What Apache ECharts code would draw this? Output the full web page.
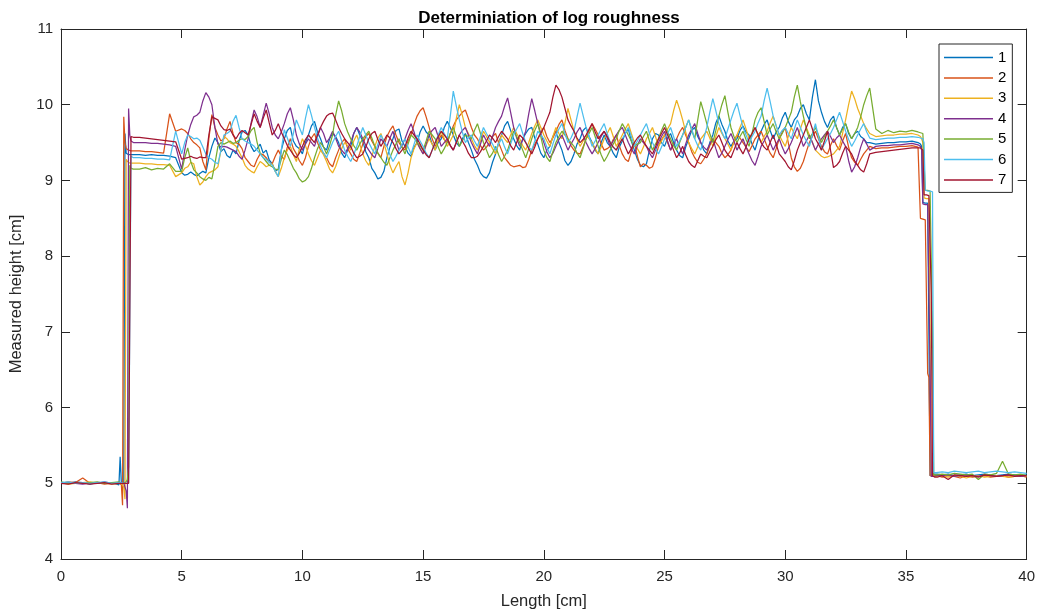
<!DOCTYPE html>
<html>
<head>
<meta charset="utf-8">
<script src="https://cdn.jsdelivr.net/npm/echarts@6/dist/echarts.min.js"></script>
<style>
html,body{margin:0;padding:0;background:#fff;}
#chart{width:1038px;height:615px;}
</style>
</head>
<body>
<div id="chart"></div>
<script>
// ---- data ----
const titleText = 'Determiniation of log roughness';
const xName = 'Length [cm]';
const yName = 'Measured height [cm]';
const seriesNames = ['1','2','3','4','5','6','7'];
const seriesColors = ['#0072BD','#D95319','#EDB120','#7E2F8E','#77AC30','#4DBEEE','#A2142F'];
const xTicks = [0,5,10,15,20,25,30,35,40];
const yTicks = [4,5,6,7,8,9,10,11];

// sample positions along the log [cm]
const lengthCm = [
  0,0.3,0.6,0.9,1.2,1.5,1.8,2.1,2.4,
  2.45,2.5,2.55,2.6,2.65,2.7,2.75,2.8,2.85,2.9,2.95,3,
  3.25,3.5,3.75,4,4.25,4.5,4.75,
  5,5.125,5.25,5.375,5.5,5.625,5.75,5.875,
  6,6.125,6.25,6.375,6.5,6.625,6.75,6.875,
  7,7.125,7.25,7.375,7.5,7.625,7.75,7.875,
  8,8.125,8.25,8.375,8.5,8.625,8.75,8.875,
  9,9.125,9.25,9.375,9.5,9.625,9.75,9.875,
  10,10.125,10.25,10.375,10.5,10.625,10.75,10.875,
  11,11.125,11.25,11.375,11.5,11.625,11.75,11.875,
  12,12.125,12.25,12.375,12.5,12.625,12.75,12.875,
  13,13.125,13.25,13.375,13.5,13.625,13.75,13.875,
  14,14.125,14.25,14.375,14.5,14.625,14.75,14.875,
  15,15.125,15.25,15.375,15.5,15.625,15.75,15.875,
  16,16.125,16.25,16.375,16.5,16.625,16.75,16.875,
  17,17.125,17.25,17.375,17.5,17.625,17.75,17.875,
  18,18.125,18.25,18.375,18.5,18.625,18.75,18.875,
  19,19.125,19.25,19.375,19.5,19.625,19.75,19.875,
  20,20.125,20.25,20.375,20.5,20.625,20.75,20.875,
  21,21.125,21.25,21.375,21.5,21.625,21.75,21.875,
  22,22.125,22.25,22.375,22.5,22.625,22.75,22.875,
  23,23.125,23.25,23.375,23.5,23.625,23.75,23.875,
  24,24.125,24.25,24.375,24.5,24.625,24.75,24.875,
  25,25.125,25.25,25.375,25.5,25.625,25.75,25.875,
  26,26.125,26.25,26.375,26.5,26.625,26.75,26.875,
  27,27.125,27.25,27.375,27.5,27.625,27.75,27.875,
  28,28.125,28.25,28.375,28.5,28.625,28.75,28.875,
  29,29.125,29.25,29.375,29.5,29.625,29.75,29.875,
  30,30.125,30.25,30.375,30.5,30.625,30.75,30.875,
  31,31.125,31.25,31.375,31.5,31.625,31.75,31.875,
  32,32.125,32.25,32.375,32.5,32.625,32.75,32.875,
  33,33.125,33.25,33.375,33.5,
  33.75,34,34.25,34.5,34.75,35,35.25,35.5,
  35.55,35.6,35.65,35.7,35.75,35.8,35.85,35.9,35.95,36,36.05,36.1,36.15,36.2,36.25,36.3,
  36.5,36.75,37,37.25,37.5,37.75,38,38.25,38.5,38.75,39,39.25,39.5,39.75,40
];

const h1 = [
  5.01,5.00,5.02,5.01,4.99,5.01,5.00,5.01,4.98,
  5.35,5.00,5.02,5.00,9.62,9.36,9.35,9.34,9.34,9.34,9.34,9.34,
  9.34,9.33,9.34,9.33,9.33,9.32,9.30,
  9.10,9.07,9.08,9.11,9.08,9.06,9.09,9.12,
  9.10,9.30,9.45,9.56,9.50,9.38,9.42,9.33,
  9.30,9.40,9.35,9.52,9.64,9.66,9.60,9.45,
  9.38,9.42,9.48,9.36,9.40,9.27,9.22,9.12,
  9.15,9.40,9.55,9.66,9.70,9.52,9.45,9.42,
  9.35,9.50,9.60,9.72,9.78,9.64,9.55,9.44,
  9.40,9.55,9.62,9.58,9.50,9.36,9.30,9.40,
  9.45,9.62,9.70,9.60,9.52,9.38,9.30,9.16,
  9.10,9.02,9.04,9.12,9.30,9.44,9.55,9.66,
  9.68,9.52,9.45,9.36,9.32,9.44,9.50,9.64,
  9.72,9.64,9.60,9.48,9.40,9.50,9.55,9.70,
  9.78,9.70,9.60,9.50,9.45,9.55,9.62,9.50,
  9.40,9.28,9.20,9.10,9.05,9.03,9.10,9.24,
  9.35,9.50,9.60,9.72,9.78,9.66,9.55,9.46,
  9.40,9.55,9.62,9.68,9.70,9.56,9.48,9.36,
  9.30,9.40,9.45,9.58,9.65,9.50,9.40,9.26,
  9.20,9.25,9.35,9.48,9.55,9.66,9.70,9.58,
  9.50,9.40,9.35,9.50,9.60,9.50,9.45,9.36,
  9.30,9.44,9.52,9.62,9.68,9.52,9.40,9.28,
  9.20,9.18,9.22,9.40,9.55,9.62,9.60,9.50,
  9.45,9.56,9.62,9.50,9.40,9.33,9.30,9.44,
  9.55,9.66,9.70,9.58,9.50,9.40,9.35,9.50,
  9.60,9.76,9.85,9.74,9.65,9.52,9.45,9.52,
  9.55,9.66,9.72,9.64,9.60,9.48,9.40,9.54,
  9.65,9.74,9.80,9.66,9.55,9.64,9.70,9.82,
  9.90,9.78,9.70,9.80,9.85,9.95,10.00,9.88,
  9.80,10.10,10.33,10.05,9.90,9.78,9.70,9.80,
  9.85,9.70,9.60,9.70,9.75,9.62,9.55,9.62,
  9.65,9.58,9.55,9.50,9.50,
  9.48,9.49,9.50,9.50,9.51,9.51,9.52,9.50,
  9.50,9.48,9.45,8.71,8.71,8.70,8.70,8.70,7.00,5.10,5.11,5.12,5.11,5.12,5.11,5.12,
  5.11,5.12,5.10,5.11,5.12,5.10,5.11,5.12,5.11,5.10,5.11,5.12,5.11,5.10,5.11
];
const h2 = [
  5.00,5.02,5.01,5.07,5.00,5.01,4.99,5.00,5.01,
  5.00,4.98,4.71,9.84,9.50,9.42,9.40,9.40,9.39,9.39,9.39,9.39,
  9.39,9.38,9.38,9.37,9.36,9.88,9.65,
  9.68,9.66,9.62,9.55,9.50,9.47,9.43,9.25,
  9.14,9.55,9.87,9.70,9.60,9.52,9.55,9.68,
  9.78,9.62,9.50,9.48,9.42,9.30,9.25,9.20,
  9.18,9.28,9.35,9.34,9.30,9.24,9.22,9.32,
  9.40,9.32,9.28,9.44,9.55,9.42,9.35,9.26,
  9.20,9.30,9.45,9.56,9.62,9.50,9.40,9.36,
  9.30,9.22,9.18,9.30,9.40,9.50,9.55,9.42,
  9.35,9.28,9.25,9.36,9.48,9.58,9.62,9.52,
  9.45,9.36,9.30,9.45,9.58,9.66,9.72,9.60,
  9.50,9.44,9.40,9.52,9.60,9.74,9.85,9.92,
  9.96,9.84,9.70,9.55,9.45,9.52,9.60,9.54,
  9.50,9.62,9.72,9.80,9.85,9.90,9.93,9.82,
  9.70,9.60,9.55,9.46,9.40,9.44,9.50,9.58,
  9.62,9.50,9.40,9.30,9.25,9.20,9.18,9.19,
  9.20,9.17,9.18,9.28,9.40,9.48,9.55,9.64,
  9.70,9.58,9.50,9.56,9.65,9.74,9.80,9.66,
  9.55,9.46,9.40,9.36,9.35,9.44,9.55,9.66,
  9.75,9.68,9.60,9.48,9.40,9.42,9.45,9.54,
  9.60,9.46,9.35,9.28,9.25,9.38,9.50,9.32,
  9.18,9.22,9.20,9.16,9.18,9.30,9.45,9.54,
  9.60,9.50,9.40,9.48,9.55,9.64,9.70,9.60,
  9.50,9.38,9.30,9.24,9.22,9.28,9.35,9.46,
  9.55,9.50,9.45,9.36,9.30,9.34,9.40,9.52,
  9.60,9.56,9.50,9.44,9.38,9.46,9.55,9.60,
  9.65,9.55,9.45,9.36,9.30,9.42,9.55,9.64,
  9.70,9.50,9.30,9.18,9.12,9.16,9.25,9.38,
  9.50,9.58,9.65,9.55,9.45,9.38,9.35,9.46,
  9.55,9.46,9.40,9.52,9.62,9.44,9.30,9.24,
  9.20,9.28,9.35,9.40,9.45,
  9.42,9.43,9.43,9.44,9.45,9.45,9.46,9.44,
  9.44,8.50,8.49,8.49,8.48,8.48,8.48,6.45,6.40,5.10,5.09,5.10,5.09,5.10,5.09,5.10,
  5.08,5.10,5.09,5.07,5.10,5.08,5.09,5.10,5.08,5.09,5.10,5.08,5.09,5.10,5.08
];
const h3 = [
  5.01,4.99,5.00,5.01,5.02,5.00,5.01,4.99,5.00,
  5.00,5.00,5.00,4.95,4.79,9.28,9.25,9.24,9.23,9.23,9.23,9.23,
  9.23,9.22,9.22,9.21,9.21,9.20,9.05,
  9.10,9.16,9.18,9.24,9.22,9.05,8.94,8.98,
  9.05,9.10,9.12,9.14,9.18,9.40,9.58,9.55,
  9.50,9.48,9.45,9.38,9.30,9.20,9.15,9.12,
  9.10,9.18,9.25,9.22,9.18,9.20,9.22,9.12,
  9.05,9.16,9.30,9.40,9.45,9.34,9.25,9.42,
  9.55,9.46,9.35,9.26,9.20,9.30,9.40,9.34,
  9.25,9.15,9.10,9.18,9.30,9.42,9.50,9.46,
  9.40,9.52,9.60,9.48,9.35,9.26,9.20,9.32,
  9.45,9.56,9.62,9.50,9.35,9.20,9.10,9.18,
  9.25,9.05,8.94,9.10,9.30,9.42,9.50,9.42,
  9.35,9.46,9.55,9.48,9.40,9.54,9.65,9.55,
  9.45,9.52,9.60,9.82,10.00,9.86,9.70,9.62,
  9.55,9.46,9.40,9.52,9.65,9.58,9.50,9.42,
  9.35,9.48,9.60,9.55,9.50,9.60,9.70,9.62,
  9.55,9.46,9.40,9.50,9.62,9.72,9.80,9.70,
  9.60,9.52,9.45,9.58,9.70,9.62,9.55,9.76,
  9.95,9.80,9.65,9.54,9.45,9.52,9.60,9.55,
  9.50,9.42,9.35,9.44,9.55,9.62,9.70,9.58,
  9.45,9.52,9.60,9.68,9.75,9.62,9.50,9.42,
  9.35,9.44,9.55,9.62,9.70,9.58,9.45,9.52,
  9.60,9.68,9.75,9.92,10.06,9.94,9.80,9.64,
  9.50,9.42,9.35,9.44,9.55,9.60,9.65,9.56,
  9.45,9.58,9.70,9.62,9.55,9.48,9.40,9.50,
  9.60,9.70,9.80,9.68,9.55,9.62,9.70,9.60,
  9.50,9.58,9.65,9.76,9.85,9.72,9.60,9.52,
  9.45,9.58,9.70,9.62,9.55,9.68,9.80,9.70,
  9.60,9.50,9.40,9.36,9.32,9.30,9.31,9.33,
  9.35,9.40,9.45,9.62,9.80,10.00,10.18,10.08,
  9.95,9.85,9.75,9.68,9.62,
  9.58,9.59,9.60,9.60,9.61,9.61,9.62,9.60,
  9.60,9.58,9.55,9.50,8.77,8.77,8.76,8.76,8.76,7.00,5.10,5.09,5.10,5.10,5.09,5.10,
  5.09,5.08,5.10,5.09,5.07,5.09,5.10,5.08,5.09,5.10,5.09,5.08,5.09,5.10,5.09
];
const h4 = [
  5.00,5.01,5.00,4.99,5.01,5.00,5.02,5.00,5.01,
  5.00,5.00,5.00,5.00,5.00,4.90,4.67,9.95,9.60,9.52,9.50,9.50,
  9.50,9.50,9.49,9.49,9.48,9.47,9.45,
  9.15,9.40,9.60,9.74,9.84,9.86,9.90,10.05,
  10.16,10.10,10.00,9.70,9.48,9.44,9.45,9.44,
  9.42,9.40,9.38,9.32,9.28,9.40,9.55,9.76,
  9.93,9.84,9.70,9.86,10.02,9.88,9.70,9.60,
  9.55,9.64,9.75,9.88,9.96,9.80,9.60,9.48,
  9.40,9.48,9.55,9.50,9.45,9.58,9.70,9.62,
  9.50,9.56,9.65,9.56,9.45,9.40,9.35,9.42,
  9.50,9.62,9.70,9.64,9.55,9.46,9.40,9.34,
  9.30,9.42,9.55,9.50,9.45,9.56,9.65,9.52,
  9.40,9.46,9.55,9.66,9.75,9.64,9.50,9.42,
  9.35,9.48,9.60,9.66,9.70,9.58,9.45,9.50,
  9.55,9.46,9.40,9.50,9.60,9.66,9.70,9.60,
  9.50,9.42,9.35,9.48,9.60,9.52,9.45,9.58,
  9.70,9.78,9.85,9.98,10.09,9.90,9.70,9.56,
  9.45,9.54,9.65,9.88,10.08,9.92,9.75,9.62,
  9.50,9.38,9.30,9.36,9.45,9.54,9.60,9.50,
  9.40,9.48,9.55,9.64,9.70,9.60,9.50,9.42,
  9.35,9.42,9.50,9.58,9.65,9.56,9.45,9.52,
  9.60,9.66,9.70,9.60,9.50,9.42,9.35,9.46,
  9.55,9.50,9.45,9.36,9.30,9.40,9.50,9.58,
  9.65,9.52,9.40,9.48,9.55,9.44,9.35,9.48,
  9.60,9.68,9.75,9.62,9.50,9.44,9.40,9.48,
  9.55,9.42,9.30,9.36,9.45,9.54,9.62,9.52,
  9.40,9.48,9.55,9.44,9.35,9.26,9.20,9.32,
  9.45,9.52,9.60,9.50,9.40,9.48,9.55,9.44,
  9.35,9.42,9.50,9.60,9.70,9.58,9.45,9.52,
  9.60,9.50,9.40,9.48,9.55,9.60,9.65,9.58,
  9.50,9.56,9.60,9.52,9.45,9.26,9.11,9.18,
  9.30,9.44,9.55,9.48,9.40,
  9.45,9.46,9.46,9.47,9.47,9.48,9.49,9.47,
  9.47,9.45,9.40,8.69,8.69,8.68,8.68,8.68,8.68,6.50,5.09,5.10,5.09,5.10,5.10,5.09,
  5.10,5.11,5.09,5.10,5.11,5.10,5.09,5.11,5.10,5.09,5.10,5.11,5.10,5.09,5.10
];
const h5 = [
  5.02,5.00,5.01,5.00,5.01,5.02,5.00,5.01,5.02,
  5.00,5.00,5.00,5.00,5.01,5.02,5.05,5.22,9.20,9.16,9.15,9.15,
  9.15,9.17,9.14,9.16,9.15,9.22,9.12,
  9.12,9.30,9.43,9.25,9.14,9.10,9.05,9.02,
  9.00,9.04,9.02,9.22,9.45,9.50,9.48,9.50,
  9.52,9.49,9.50,9.53,9.55,9.54,9.58,9.66,
  9.70,9.50,9.36,9.30,9.25,9.20,9.18,9.15,
  9.14,9.28,9.40,9.34,9.25,9.16,9.10,9.02,
  8.98,9.00,9.05,9.16,9.30,9.42,9.50,9.44,
  9.35,9.46,9.60,9.86,10.05,9.92,9.75,9.64,
  9.55,9.46,9.40,9.48,9.55,9.60,9.65,9.56,
  9.45,9.36,9.30,9.24,9.20,9.30,9.40,9.48,
  9.55,9.44,9.35,9.48,9.60,9.56,9.50,9.46,
  9.40,9.52,9.65,9.60,9.55,9.44,9.35,9.42,
  9.50,9.62,9.70,9.58,9.45,9.52,9.60,9.58,
  9.55,9.66,9.75,9.62,9.50,9.40,9.30,9.36,
  9.45,9.34,9.25,9.32,9.40,9.52,9.65,9.58,
  9.50,9.40,9.30,9.42,9.55,9.66,9.75,9.58,
  9.40,9.30,9.25,9.38,9.50,9.58,9.65,9.60,
  9.55,9.50,9.45,9.36,9.30,9.42,9.55,9.62,
  9.70,9.58,9.45,9.34,9.25,9.32,9.40,9.48,
  9.55,9.66,9.75,9.68,9.60,9.52,9.45,9.48,
  9.50,9.58,9.65,9.52,9.40,9.48,9.55,9.66,
  9.75,9.64,9.55,9.46,9.40,9.50,9.60,9.70,
  9.80,9.66,9.55,9.80,10.04,9.90,9.75,9.62,
  9.50,9.66,9.85,10.00,10.12,9.90,9.70,9.58,
  9.50,9.58,9.65,9.54,9.45,9.62,9.80,9.90,
  9.96,9.78,9.60,9.68,9.75,9.64,9.55,9.62,
  9.70,9.80,9.90,10.10,10.26,10.04,9.85,9.68,
  9.55,9.62,9.70,9.60,9.50,9.58,9.65,9.72,
  9.80,9.70,9.60,9.68,9.75,9.64,9.55,9.62,
  9.70,9.84,10.00,10.12,10.22,
  9.68,9.62,9.66,9.63,9.65,9.64,9.66,9.64,
  9.64,9.63,9.62,9.62,9.60,8.87,8.87,8.87,8.86,8.86,8.86,7.00,5.11,5.12,5.11,5.12,
  5.12,5.11,5.13,5.12,5.11,5.12,5.05,5.12,5.11,5.13,5.29,5.12,5.11,5.12,5.10
];
const h6 = [
  5.01,5.02,5.00,5.01,5.00,5.01,5.02,5.00,5.01,
  5.00,5.01,5.00,5.00,5.01,5.00,5.00,5.00,5.00,9.32,9.30,9.30,
  9.30,9.29,9.29,9.28,9.28,9.27,9.65,
  9.35,9.50,9.60,9.58,9.55,9.56,9.53,9.44,
  9.35,9.30,9.28,9.24,9.22,9.40,9.60,9.62,
  9.65,9.78,9.86,9.70,9.55,9.52,9.50,9.48,
  9.45,9.40,9.35,9.30,9.28,9.24,9.20,9.12,
  9.05,9.40,9.67,9.56,9.45,9.62,9.80,9.70,
  9.60,9.82,10.00,9.86,9.70,9.56,9.45,9.36,
  9.30,9.40,9.50,9.58,9.65,9.52,9.40,9.32,
  9.25,9.34,9.45,9.58,9.70,9.60,9.50,9.42,
  9.35,9.48,9.60,9.52,9.45,9.34,9.25,9.32,
  9.40,9.48,9.55,9.44,9.35,9.48,9.60,9.52,
  9.45,9.36,9.30,9.40,9.50,9.60,9.70,9.62,
  9.55,9.85,10.18,9.98,9.80,9.64,9.50,9.56,
  9.60,9.52,9.45,9.58,9.70,9.62,9.55,9.48,
  9.40,9.48,9.55,9.44,9.35,9.48,9.60,9.68,
  9.75,9.62,9.50,9.44,9.40,9.52,9.65,9.60,
  9.55,9.44,9.35,9.48,9.60,9.68,9.75,9.62,
  9.50,9.56,9.65,9.84,10.02,9.86,9.70,9.58,
  9.45,9.52,9.60,9.68,9.75,9.62,9.50,9.44,
  9.40,9.48,9.55,9.62,9.70,9.58,9.45,9.52,
  9.60,9.68,9.75,9.62,9.50,9.42,9.35,9.44,
  9.55,9.62,9.70,9.58,9.45,9.52,9.60,9.70,
  9.80,9.68,9.55,9.46,9.40,9.55,9.70,9.90,
  10.08,9.92,9.75,9.64,9.55,9.68,9.80,9.92,
  10.02,9.86,9.70,9.60,9.50,9.58,9.65,9.76,
  9.85,10.05,10.22,10.04,9.85,9.72,9.60,9.66,
  9.70,9.62,9.55,9.68,9.80,9.70,9.60,9.52,
  9.45,9.60,9.75,9.58,9.40,9.48,9.55,9.62,
  9.70,9.80,9.90,9.78,9.65,9.54,9.45,9.52,
  9.60,9.68,9.75,9.64,9.56,
  9.54,9.55,9.56,9.56,9.57,9.57,9.58,9.57,
  9.57,9.56,9.55,9.55,9.50,8.87,8.87,8.86,8.86,8.86,8.85,8.85,5.14,5.15,5.14,5.15,
  5.15,5.14,5.16,5.15,5.14,5.15,5.16,5.14,5.15,5.16,5.15,5.14,5.15,5.14,5.13
];
const h7 = [
  5.00,4.99,5.01,5.00,4.99,5.00,5.01,4.99,5.00,
  5.00,5.00,5.01,5.00,5.00,5.00,5.00,5.00,5.00,9.58,9.58,9.57,
  9.57,9.56,9.55,9.54,9.53,9.52,9.51,
  9.28,9.29,9.30,9.32,9.30,9.29,9.31,9.30,
  9.30,9.60,9.84,9.82,9.80,9.72,9.67,9.66,
  9.68,9.60,9.55,9.62,9.66,9.63,9.60,9.74,
  9.88,9.78,9.70,9.82,9.93,9.76,9.60,9.66,
  9.75,9.64,9.55,9.46,9.40,9.34,9.30,9.36,
  9.45,9.54,9.60,9.55,9.50,9.60,9.70,9.78,
  9.85,9.88,9.89,9.80,9.70,9.62,9.55,9.50,
  9.45,9.36,9.30,9.32,9.35,9.44,9.55,9.62,
  9.65,9.54,9.45,9.52,9.60,9.56,9.50,9.42,
  9.35,9.40,9.45,9.56,9.65,9.60,9.55,9.48,
  9.40,9.34,9.30,9.40,9.50,9.58,9.65,9.60,
  9.55,9.46,9.40,9.50,9.60,9.52,9.45,9.36,
  9.30,9.30,9.32,9.38,9.45,9.52,9.60,9.56,
  9.50,9.58,9.65,9.60,9.55,9.46,9.40,9.50,
  9.60,9.56,9.50,9.42,9.35,9.44,9.55,9.62,
  9.70,9.80,9.90,10.10,10.26,10.20,10.10,9.95,
  9.80,9.72,9.65,9.56,9.50,9.54,9.60,9.68,
  9.75,9.64,9.55,9.60,9.65,9.58,9.50,9.44,
  9.40,9.48,9.55,9.44,9.35,9.42,9.50,9.56,
  9.60,9.52,9.45,9.40,9.35,9.44,9.55,9.62,
  9.70,9.60,9.50,9.40,9.30,9.36,9.45,9.34,
  9.25,9.20,9.17,9.26,9.35,9.32,9.30,9.38,
  9.45,9.54,9.60,9.50,9.40,9.34,9.30,9.40,
  9.50,9.42,9.35,9.44,9.55,9.62,9.70,9.60,
  9.50,9.44,9.40,9.50,9.60,9.48,9.35,9.30,
  9.25,9.18,9.14,9.26,9.40,9.50,9.60,9.70,
  9.80,9.68,9.55,9.48,9.40,9.52,9.65,9.40,
  9.17,9.20,9.25,9.36,9.45,9.40,9.35,9.26,
  9.20,9.14,9.11,9.22,9.35,
  9.37,9.38,9.39,9.40,9.41,9.42,9.43,9.43,
  9.43,9.43,9.42,9.40,8.81,8.81,8.81,8.81,8.80,8.80,7.50,5.10,5.09,5.08,5.09,5.08,
  5.10,5.05,5.11,5.10,5.09,5.10,5.08,5.11,5.10,5.09,5.10,5.11,5.09,5.10,5.10
];
const heights = [h1,h2,h3,h4,h5,h6,h7];

// ---- chart ----
heights.forEach((h,i)=>{ if(h.length!==lengthCm.length) throw new Error('series '+(i+1)+' length '+h.length+' vs '+lengthCm.length); });

const FONT = '"Liberation Sans", Helvetica, Arial, sans-serif';
const AX = '#262626';
const chart = echarts.init(document.getElementById('chart'), null, {renderer:'canvas'});

const baseAxis = {
  axisLine:{show:true, onZero:false, lineStyle:{color:AX, width:1}},
  axisTick:{show:true, inside:true, length:9, lineStyle:{color:AX, width:1}},
  splitLine:{show:false}
};
const xMin = xTicks[0], xMax = xTicks[xTicks.length-1], xInt = xTicks[1]-xTicks[0];
const yMin = yTicks[0], yMax = yTicks[yTicks.length-1], yInt = yTicks[1]-yTicks[0];

chart.setOption({
  animation:false,
  backgroundColor:'#fff',
  title:{
    text:titleText, left:544, top:5, textAlign:'center',
    textStyle:{fontFamily:FONT, fontSize:17, fontWeight:'bold', color:'#000'}
  },
  grid:{left:61, right:11, top:29, bottom:55, containLabel:false},
  legend:{
    data:seriesNames, orient:'vertical', left:939, top:44,
    icon:'rect', itemWidth:49, itemHeight:1.5, itemGap:3.4, itemTextGap:4,
    padding:[5,6,4,5],
    borderColor:AX, borderWidth:1, backgroundColor:'#fff',
    textStyle:{fontFamily:FONT, fontSize:15, color:'#000', lineHeight:17}
  },
  xAxis:[
    Object.assign({}, baseAxis, {
      type:'value', position:'bottom', min:xMin, max:xMax, interval:xInt,
      name:xName, nameLocation:'middle', nameGap:34,
      nameTextStyle:{fontFamily:FONT, fontSize:16.5, color:AX},
      axisLabel:{fontFamily:FONT, fontSize:15, color:AX, margin:10}
    }),
    Object.assign({}, baseAxis, {
      type:'value', position:'top', min:xMin, max:xMax, interval:xInt,
      axisLabel:{show:false}
    })
  ],
  yAxis:[
    Object.assign({}, baseAxis, {
      type:'value', position:'left', min:yMin, max:yMax, interval:yInt,
      name:yName, nameLocation:'middle', nameGap:33, nameRotate:90,
      nameTextStyle:{fontFamily:FONT, fontSize:16.5, color:AX},
      axisLabel:{fontFamily:FONT, fontSize:15, color:AX, margin:8}
    }),
    Object.assign({}, baseAxis, {
      type:'value', position:'right', min:yMin, max:yMax, interval:yInt,
      axisLabel:{show:false}
    })
  ],
  series: heights.map((h,i)=>({
    name:seriesNames[i], type:'line', xAxisIndex:0, yAxisIndex:0,
    showSymbol:false, symbol:'none',
    color:seriesColors[i],
    lineStyle:{width:1.25, color:seriesColors[i]},
    data:lengthCm.map((x,k)=>[x,h[k]])
  }))
});
</script>
</body>
</html>
